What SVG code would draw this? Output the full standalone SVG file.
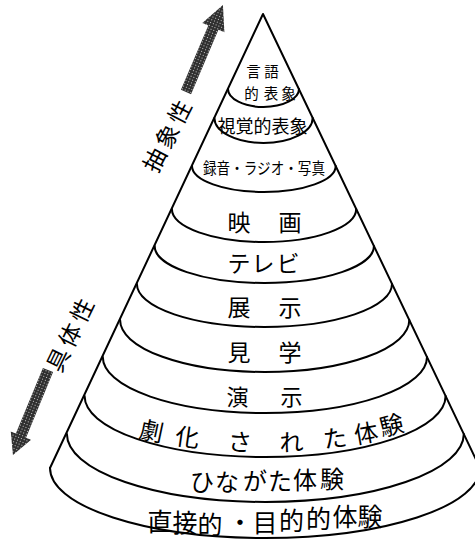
<svg xmlns="http://www.w3.org/2000/svg" width="475" height="545" viewBox="0 0 475 545">
<style>
.ln{fill:none;stroke:#000;stroke-width:2;stroke-linejoin:round;stroke-linecap:round}
.t{font-family:"Noto Sans CJK JP","Noto Sans CJK SC",sans-serif;fill:#000;text-anchor:middle}
.arw{fill:url(#dots)}
</style>
<defs>
<pattern id="dots" width="3" height="3" patternUnits="userSpaceOnUse">
<rect width="3" height="3" fill="#303030"/>
<rect x="1" y="1" width="1" height="1" fill="#c8c8c8"/>
</pattern>
</defs>
<rect width="475" height="545" fill="#fff"/>
<g id="cone">
<path class="ln" d="M50 468 L263 14 L481 470"/>
<path class="ln" d="M50 468 A215 70 0 0 0 480 468"/>
</g>
<g id="band-1">
<path class="ln" d="M228 89 A35.5 18 0 0 0 299 89"/>
<text class="t" font-size="14.5" x="253.5 271.5" y="77">言語</text>
<text class="t" font-size="14.5" x="251.5 271 288.5" y="99">的表象</text>
</g>
<g id="band-2">
<path class="ln" d="M214.4 118 A49.15 25 0 0 0 312.7 118"/>
<text class="t" font-size="18" x="262.5" y="133">視覚的表象</text>
</g>
<g id="band-3">
<path class="ln" d="M192 166 A71.85 26 0 0 0 335.7 166"/>
<text class="t" font-size="15.5" x="264" y="174" textLength="122" lengthAdjust="spacingAndGlyphs">録音・ラジオ・写真</text>
</g>
<g id="band-4">
<path class="ln" d="M171.9 209 A92.15 33 0 0 0 356.2 209"/>
<text class="t" font-size="23" x="239 290" y="231">映画</text>
</g>
<g id="band-5">
<path class="ln" d="M154.7 246 A109.6 37 0 0 0 373.9 246"/>
<text class="t" font-size="23" x="239 263 288" y="272">テレビ</text>
</g>
<g id="band-6">
<path class="ln" d="M136.9 284 A127.55 43 0 0 0 392 284"/>
<text class="t" font-size="23" x="239 290" y="316">展示</text>
</g>
<g id="band-7">
<path class="ln" d="M120.1 320 A144.6 52 0 0 0 409.3 320"/>
<text class="t" font-size="23" x="239 290" y="361">見学</text>
</g>
<g id="band-8">
<path class="ln" d="M102.8 357 A162.1 56 0 0 0 427 357"/>
<text class="t" font-size="22" x="237.5 291.5" y="405">演示</text>
</g>
<g id="band-9">
<path class="ln" d="M84.6 396 A180.5 61 0 0 0 445.6 396"/>
<text class="t" font-size="24" transform="translate(151.5 431) rotate(12)" y="9">劇</text>
<text class="t" font-size="24" transform="translate(187.5 437) rotate(8)" y="9">化</text>
<text class="t" font-size="24" transform="translate(240 442) rotate(3)" y="9">さ</text>
<text class="t" font-size="24" transform="translate(291.5 442) rotate(-2)" y="9">れ</text>
<text class="t" font-size="24" transform="translate(335 438) rotate(-6)" y="9">た</text>
<text class="t" font-size="24" transform="translate(366 433) rotate(-10)" y="9">体</text>
<text class="t" font-size="24" transform="translate(391.5 425) rotate(-14)" y="9">験</text>
</g>
<g id="band-10">
<path class="ln" d="M66.9 434 A198.45 68 0 0 0 463.8 434"/>
<text class="t" font-size="24" x="202 227 255 280 305 332" y="491 491 490 490 489 488">ひながた体験</text>
</g>
<g id="band-11">
<text class="t" font-size="25" x="160 185 210 240 265 291.5 318.5 345 370" y="531 532 534 532 532 530 528 526 526">直接的・目的的体験</text>
</g>
<g id="label-abstract">
<text class="t" font-size="23" transform="translate(167 136) rotate(-62.5)" x="-27 0 27" y="8.7">抽象性</text>
</g>
<g id="label-concrete">
<text class="t" font-size="23" transform="translate(70 335) rotate(-64)" x="-27.5 0 27.5" y="8.7">具体性</text>
</g>
<g id="connectors">
<polygon class="arw" transform="translate(186 92) rotate(-67)" points="0,-5.5 70,-5.5 70,-12 94.5,0 70,12 70,5.5 0,5.5"/>
<polygon class="arw" transform="translate(48 370) rotate(112.4)" points="0,-5.5 71,-5.5 71,-11 92,0 71,11 71,5.5 0,5.5"/>
</g>
</svg>
